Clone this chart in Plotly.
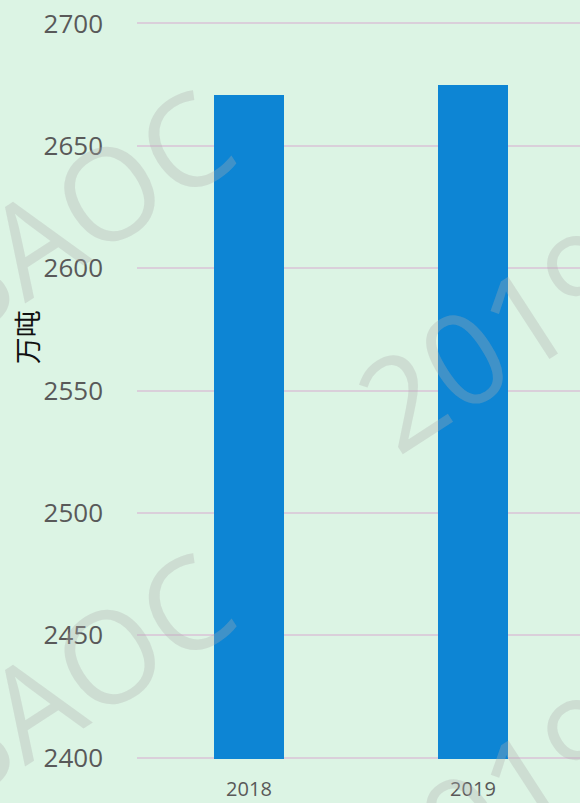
import plotly.graph_objects as go

# data
years = ["2018", "2019"]
output_wt = [2670.7, 2674.8]   # 万吨
y_ticks = [2400, 2450, 2500, 2550, 2600, 2650, 2700]

BG = "#dcf4e4"
BAR = "#0d85d4"
GRID = "#dacfda"
MARK = "rgba(175,175,175,0.32)"

fig = go.Figure()
fig.add_trace(go.Bar(
    x=years,
    y=output_wt,
    width=0.3125,
    marker=dict(color=BAR, line=dict(width=0)),
    showlegend=False,
))

# watermark text, drawn on top of the bars
for text, x, y in [("BAOC", -0.145, 0.74), ("BAOC", -0.145, 0.112),
                   ("2019", 0.804, 0.573), ("2019", 0.804, -0.056)]:
    fig.add_annotation(
        text=text, xref="paper", yref="paper", x=x, y=y,
        xanchor="center", yanchor="middle", showarrow=False,
        textangle=-33, font=dict(family="Open Sans", size=128, color=MARK),
    )

# y axis title
fig.add_annotation(
    text="万吨", xref="paper", yref="paper", x=-0.248, y=0.5726,
    xanchor="center", yanchor="middle", showarrow=False, textangle=-90,
    font=dict(family="Noto Sans CJK SC", size=27, color="#111111"),
)

fig.update_layout(
    width=580,
    height=803,
    margin=dict(l=137, r=0, t=22, b=44),
    paper_bgcolor=BG,
    plot_bgcolor=BG,
    bargap=0,
    xaxis=dict(
        range=[-0.5, 1.478],
        showgrid=False,
        zeroline=False,
        showline=False,
        ticks="",
        ticklabelstandoff=16,
        tickfont=dict(family="Open Sans", size=20, color="#595959"),
    ),
    yaxis=dict(
        range=[2399.4, 2700.6],
        tickvals=y_ticks,
        showgrid=True,
        gridcolor=GRID,
        gridwidth=2,
        zeroline=False,
        showline=False,
        ticks="",
        ticklabelstandoff=33,
        tickfont=dict(family="Open Sans", size=26, color="#595959"),
    ),
)

fig.write_html("out.html", config={"displayModeBar": False})

# drop the browser's default page margin
with open("out.html", "a") as f:
    f.write("<style>body{margin:0}</style>")
